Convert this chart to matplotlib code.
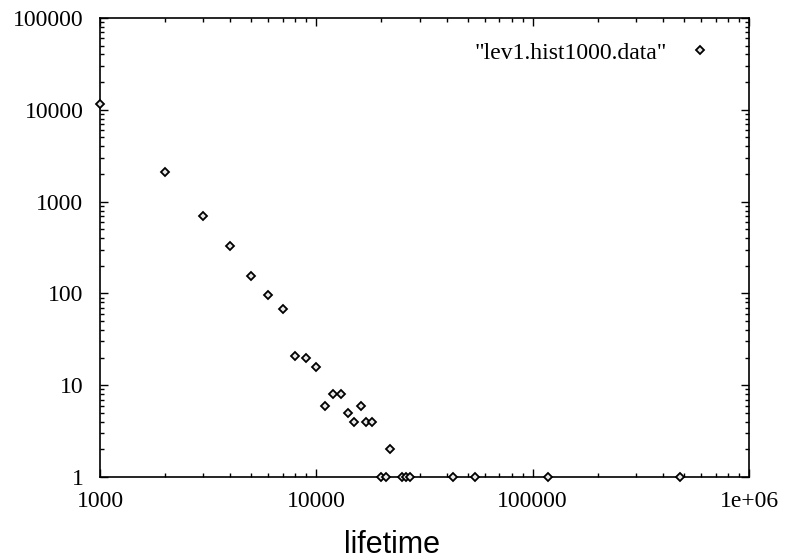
import matplotlib as mpl
mpl.use("Agg")
import matplotlib.pyplot as plt
from matplotlib.ticker import LogLocator, FixedLocator, FixedFormatter, NullFormatter

# lifetime histogram (lifetime, count)
lifetime = [1000, 2000, 3000, 4000, 5000, 6000, 7000, 8000, 9000, 10000,
            11000, 12000, 13000, 14000, 15000, 16000, 17000, 18000, 22000,
            20000, 21000, 25000, 26000, 27000, 43000, 54000, 118000, 480000]
count = [11500, 2100, 700, 330, 155, 96, 67, 21, 20, 16,
         6, 8, 8, 5, 4, 6, 4, 4, 2,
         1, 1, 1, 1, 1, 1, 1, 1, 1]

xticks = [1000, 10000, 100000, 1000000]
xlabels = ['1000', '10000', '100000', '1e+06']
yticks = [1, 10, 100, 1000, 10000, 100000]
ylabels = ['1', '10', '100', '1000', '10000', '100000']

serif = ['Liberation Serif', 'DejaVu Serif']

fig = plt.figure(figsize=(7.85, 5.6), dpi=100)
ax = fig.add_axes([0.1274, 0.148, 0.8268, 0.82])

ax.plot(lifetime, count, linestyle='none', marker='D', markersize=4.5,
        markerfacecolor='#e8e8e8', markeredgecolor='black', markeredgewidth=1.3,
        label='"lev1.hist1000.data"', clip_on=False, zorder=5)

ax.set_xscale('log')
ax.set_yscale('log')
ax.set_xlim(1000, 1e6)
ax.set_ylim(1, 1e5)

ax.xaxis.set_major_locator(FixedLocator(xticks))
ax.xaxis.set_major_formatter(FixedFormatter(xlabels))
ax.yaxis.set_major_locator(FixedLocator(yticks))
ax.yaxis.set_major_formatter(FixedFormatter(ylabels))
for a in (ax.xaxis, ax.yaxis):
  a.set_minor_locator(LogLocator(base=10, subs=range(2, 10)))
  a.set_minor_formatter(NullFormatter())

ax.tick_params(which='both', direction='in', top=True, right=True, width=1.0)
ax.tick_params(which='major', length=6)
ax.tick_params(which='minor', length=3)
ax.tick_params(axis='y', which='major', pad=12)
ax.tick_params(axis='x', which='major', pad=10)
for lab in ax.get_xticklabels() + ax.get_yticklabels():
  lab.set_family(serif)
  lab.set_fontsize(17)
for s in ax.spines.values():
  s.set_linewidth(1.2)

fig.text(392 / 785, 1 - 553 / 560, 'lifetime', ha='center', va='baseline',
         family=['Liberation Sans', 'DejaVu Sans'], fontsize=22)

ax.legend(loc='upper right', bbox_to_anchor=(0.957, 0.968), frameon=False,
          markerfirst=False, prop={'family': serif, 'size': 17},
          handlelength=1.0, handletextpad=0.9, borderaxespad=0.0, numpoints=1)

plt.savefig('out.png')
